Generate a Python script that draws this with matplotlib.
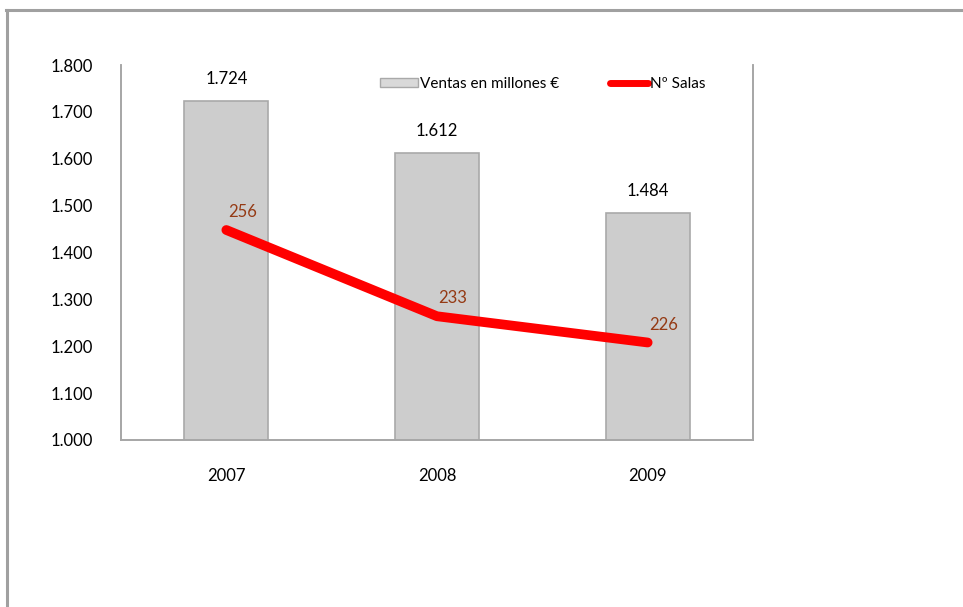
import matplotlib.pyplot as plt
from matplotlib.lines import Line2D
from matplotlib.patches import Patch

plt.rcParams['font.family'] = ['Lato', 'DejaVu Sans']

# data
years = ["2007", "2008", "2009"]
ventas = [1724, 1612, 1484]
salas = [256, 233, 226]
y_ticks = [1000, 1100, 1200, 1300, 1400, 1500, 1600, 1700, 1800]


def fmt(v):
    return f"{v:,}".replace(",", ".")


fig = plt.figure(figsize=(9.63, 6.07), dpi=100)
ax = fig.add_axes([121 / 963, 1 - 440 / 607, 632 / 963, 375 / 607])
ax2 = ax.twinx()

x = range(len(years))
bars = ax.bar(x, ventas, width=0.4, color="#cdcdcd", edgecolor="#a9a9a9",
              linewidth=1.2, zorder=2)
ax.set_xlim(-0.5, 2.5)
ax.set_ylim(1000, 1800)
ax.set_yticks(y_ticks)
ax.set_yticklabels([fmt(t) for t in y_ticks], fontsize=12)
ax.set_xticks(list(x))
ax.set_xticklabels(years, fontsize=12)
ax.tick_params(axis="both", length=0)
ax.tick_params(axis="y", pad=20)
ax.tick_params(axis="x", pad=20)

for b, v in zip(bars, ventas):
    ax.annotate(fmt(v), (b.get_x() + b.get_width() / 2, v), xytext=(0, 22),
                textcoords="offset pixels", ha="center", va="center",
                fontsize=12, color="black")

ax2.plot(list(x), salas, color="#ff0000", linewidth=7,
         solid_capstyle="round", solid_joinstyle="round", zorder=3)
ax2.set_ylim(200, 300)
ax2.set_yticks([])
for i, v in enumerate(salas):
    ax2.annotate(str(v), (i, v), xytext=(16, 18), textcoords="offset pixels",
                 ha="center", va="center", fontsize=12, color="#953a14")

for a in (ax, ax2):
    a.spines["top"].set_visible(False)
    for s in ("left", "right", "bottom"):
        a.spines[s].set_color("#a6a6a6")
        a.spines[s].set_linewidth(1.2)

handles = [Patch(facecolor="#d9d9d9", edgecolor="#a9a9a9"),
           Line2D([0], [0], color="#ff0000", linewidth=5, solid_capstyle="round")]
ax.legend(handles, ["Ventas en millones €", "Nº Salas"], loc="center left",
          bbox_to_anchor=(0.397, 0.949), ncol=2, frameon=False, fontsize=11,
          borderpad=0, handlelength=2.5, handleheight=0.55, handletextpad=0.15,
          columnspacing=3.3)

# outer frame
fig.add_artist(Line2D([6 / 963, 1], [1 - 10 / 607, 1 - 10 / 607],
                      color="#a0a0a0", linewidth=2.2))
fig.add_artist(Line2D([7 / 963, 7 / 963], [0, 1 - 10 / 607],
                      color="#a0a0a0", linewidth=2.2))

fig.savefig("out.png", dpi=100)
